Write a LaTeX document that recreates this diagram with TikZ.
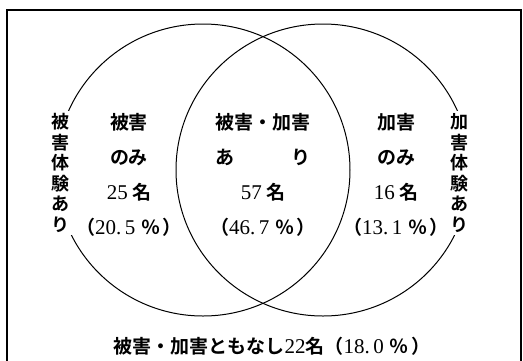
\documentclass[tikz,border=0pt]{standalone}
\usepackage{fontspec}
\newfontfamily\jp[BoldFont={Noto Sans CJK JP Bold}]{Noto Sans CJK JP}
\newfontfamily\dg{Liberation Serif}
\newcommand{\nm}[1]{{\dg\mdseries\fontsize{21}{21}\selectfont #1}}
\newcommand{\pc}{\hspace{0.3em}％\hspace{0.15em}}
\begin{document}
\begin{tikzpicture}[x=1pt,y=-1pt,
  venn/.style={draw=black,line width=1pt},
  lbl/.style={font=\jp\bfseries\fontsize{19}{35}\selectfont,align=center,inner sep=0pt},
  vlbl/.style={font=\jp\bfseries\fontsize{18}{20.5}\selectfont,align=center,fill=white,inner xsep=3pt,inner ysep=3pt}]
\useasboundingbox (0,0) rectangle (523,360);
\draw[line width=1.2pt] (7,370) -- (7,10) -- (521,10) -- (521,370);
\draw[venn] (203,170) ellipse [x radius=147,y radius=146];
\draw[venn] (323,170) ellipse [x radius=147,y radius=146];
\node[vlbl] (lv) at (60,173) {被\\害\\体\\験\\あ\\り};
\node[vlbl] (rv) at (459,173) {加\\害\\体\\験\\あ\\り};
\node[lbl] (lt) at (129,175) {被害\\のみ\\\nm{25} 名\\（\nm{20.\,5}\pc）};
\node[lbl] (ct) at (263,175) {被害・加害\\あ\hspace{3em}り\\\nm{57} 名\\（\nm{46.\,7}\pc）};
\node[lbl] (rt) at (396,175) {加害\\のみ\\\nm{16} 名\\（\nm{13.\,1}\pc）};
\node[lbl] (bt) at (272,346) {被害・加害ともなし\nm{22}名（\nm{18.\,0}\pc）};
\end{tikzpicture}
\end{document}
